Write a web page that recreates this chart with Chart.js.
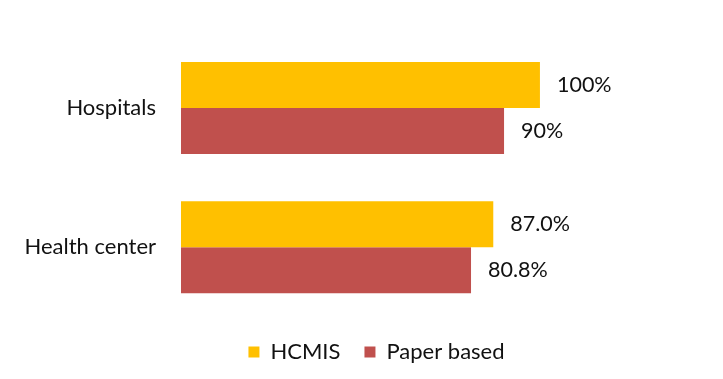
<!DOCTYPE html>
<html>
<head>
<meta charset="utf-8">
<script src="https://cdn.jsdelivr.net/npm/chart.js@4/dist/chart.umd.min.js"></script>
<style>
  html, body { margin: 0; padding: 0; background: #ffffff; }
  #wrap { width: 723px; height: 379px; }
</style>
</head>
<body>
<div id="wrap"><canvas id="facilityChart"></canvas></div>
<script>
// facility types and reporting share (%)
var facilities = ['Hospitals', 'Health center'];
var hcmisValues = [100, 87.0];
var paperValues = [90, 80.8];
// decimals shown in the value label of each row
var labelDecimals = [0, 1];

var fontFamily = "Lato, 'Open Sans', sans-serif";

// writes the value to the right of each bar
var valueLabels = {
	id: 'valueLabels',
	afterDatasetsDraw: function(chart) {
		var ctx = chart.ctx;
		ctx.save();
		ctx.font = '21.5px ' + fontFamily;
		ctx.fillStyle = '#111111';
		ctx.textAlign = 'left';
		ctx.textBaseline = 'middle';
		chart.data.datasets.forEach(function(ds, di) {
			var meta = chart.getDatasetMeta(di);
			meta.data.forEach(function(bar, i) {
				var txt = ds.data[i].toFixed(labelDecimals[i]) + '%';
				ctx.fillText(txt, bar.x + 17, bar.y);
			});
		});
		ctx.restore();
	}
};

var chartArea = document.getElementById('facilityChart');
var myChart = new Chart(chartArea, {
	type: 'bar',
	data: {
		labels: facilities,
		datasets: [
		{
			label: 'HCMIS',
			data: hcmisValues,
			backgroundColor: '#FFC000',
			borderWidth: 0
		},
		{
			label: 'Paper based',
			data: paperValues,
			backgroundColor: '#C0504D',
			borderWidth: 0
		}
		]
	},
	options: {
		indexAxis: 'y',
		responsive: true,
		maintainAspectRatio: false,
		animation: false,
		categoryPercentage: 0.66,
		barPercentage: 1.0,
		layout: {
			// negative right padding nudges the legend right of centre
			padding: { left: 16, right: -14, top: 38, bottom: 6 }
		},
		plugins: {
			legend: {
				position: 'bottom',
				labels: {
					boxWidth: 11,
					boxHeight: 11,
					padding: 24,
					color: '#111111',
					font: { family: fontFamily, size: 22 }
				}
			},
			tooltip: { enabled: false }
		},
		scales: {
			x: {
				display: false,
				min: 0,
				max: 151
			},
			y: {
				grid: { display: false, drawTicks: false },
				border: { display: false },
				ticks: {
					padding: 25,
					color: '#111111',
					font: { family: fontFamily, size: 22 }
				},
				afterFit: function(scale) {
					scale.width = 165;
				}
			}
		}
	},
	plugins: [valueLabels]
});
</script>
</body>
</html>
